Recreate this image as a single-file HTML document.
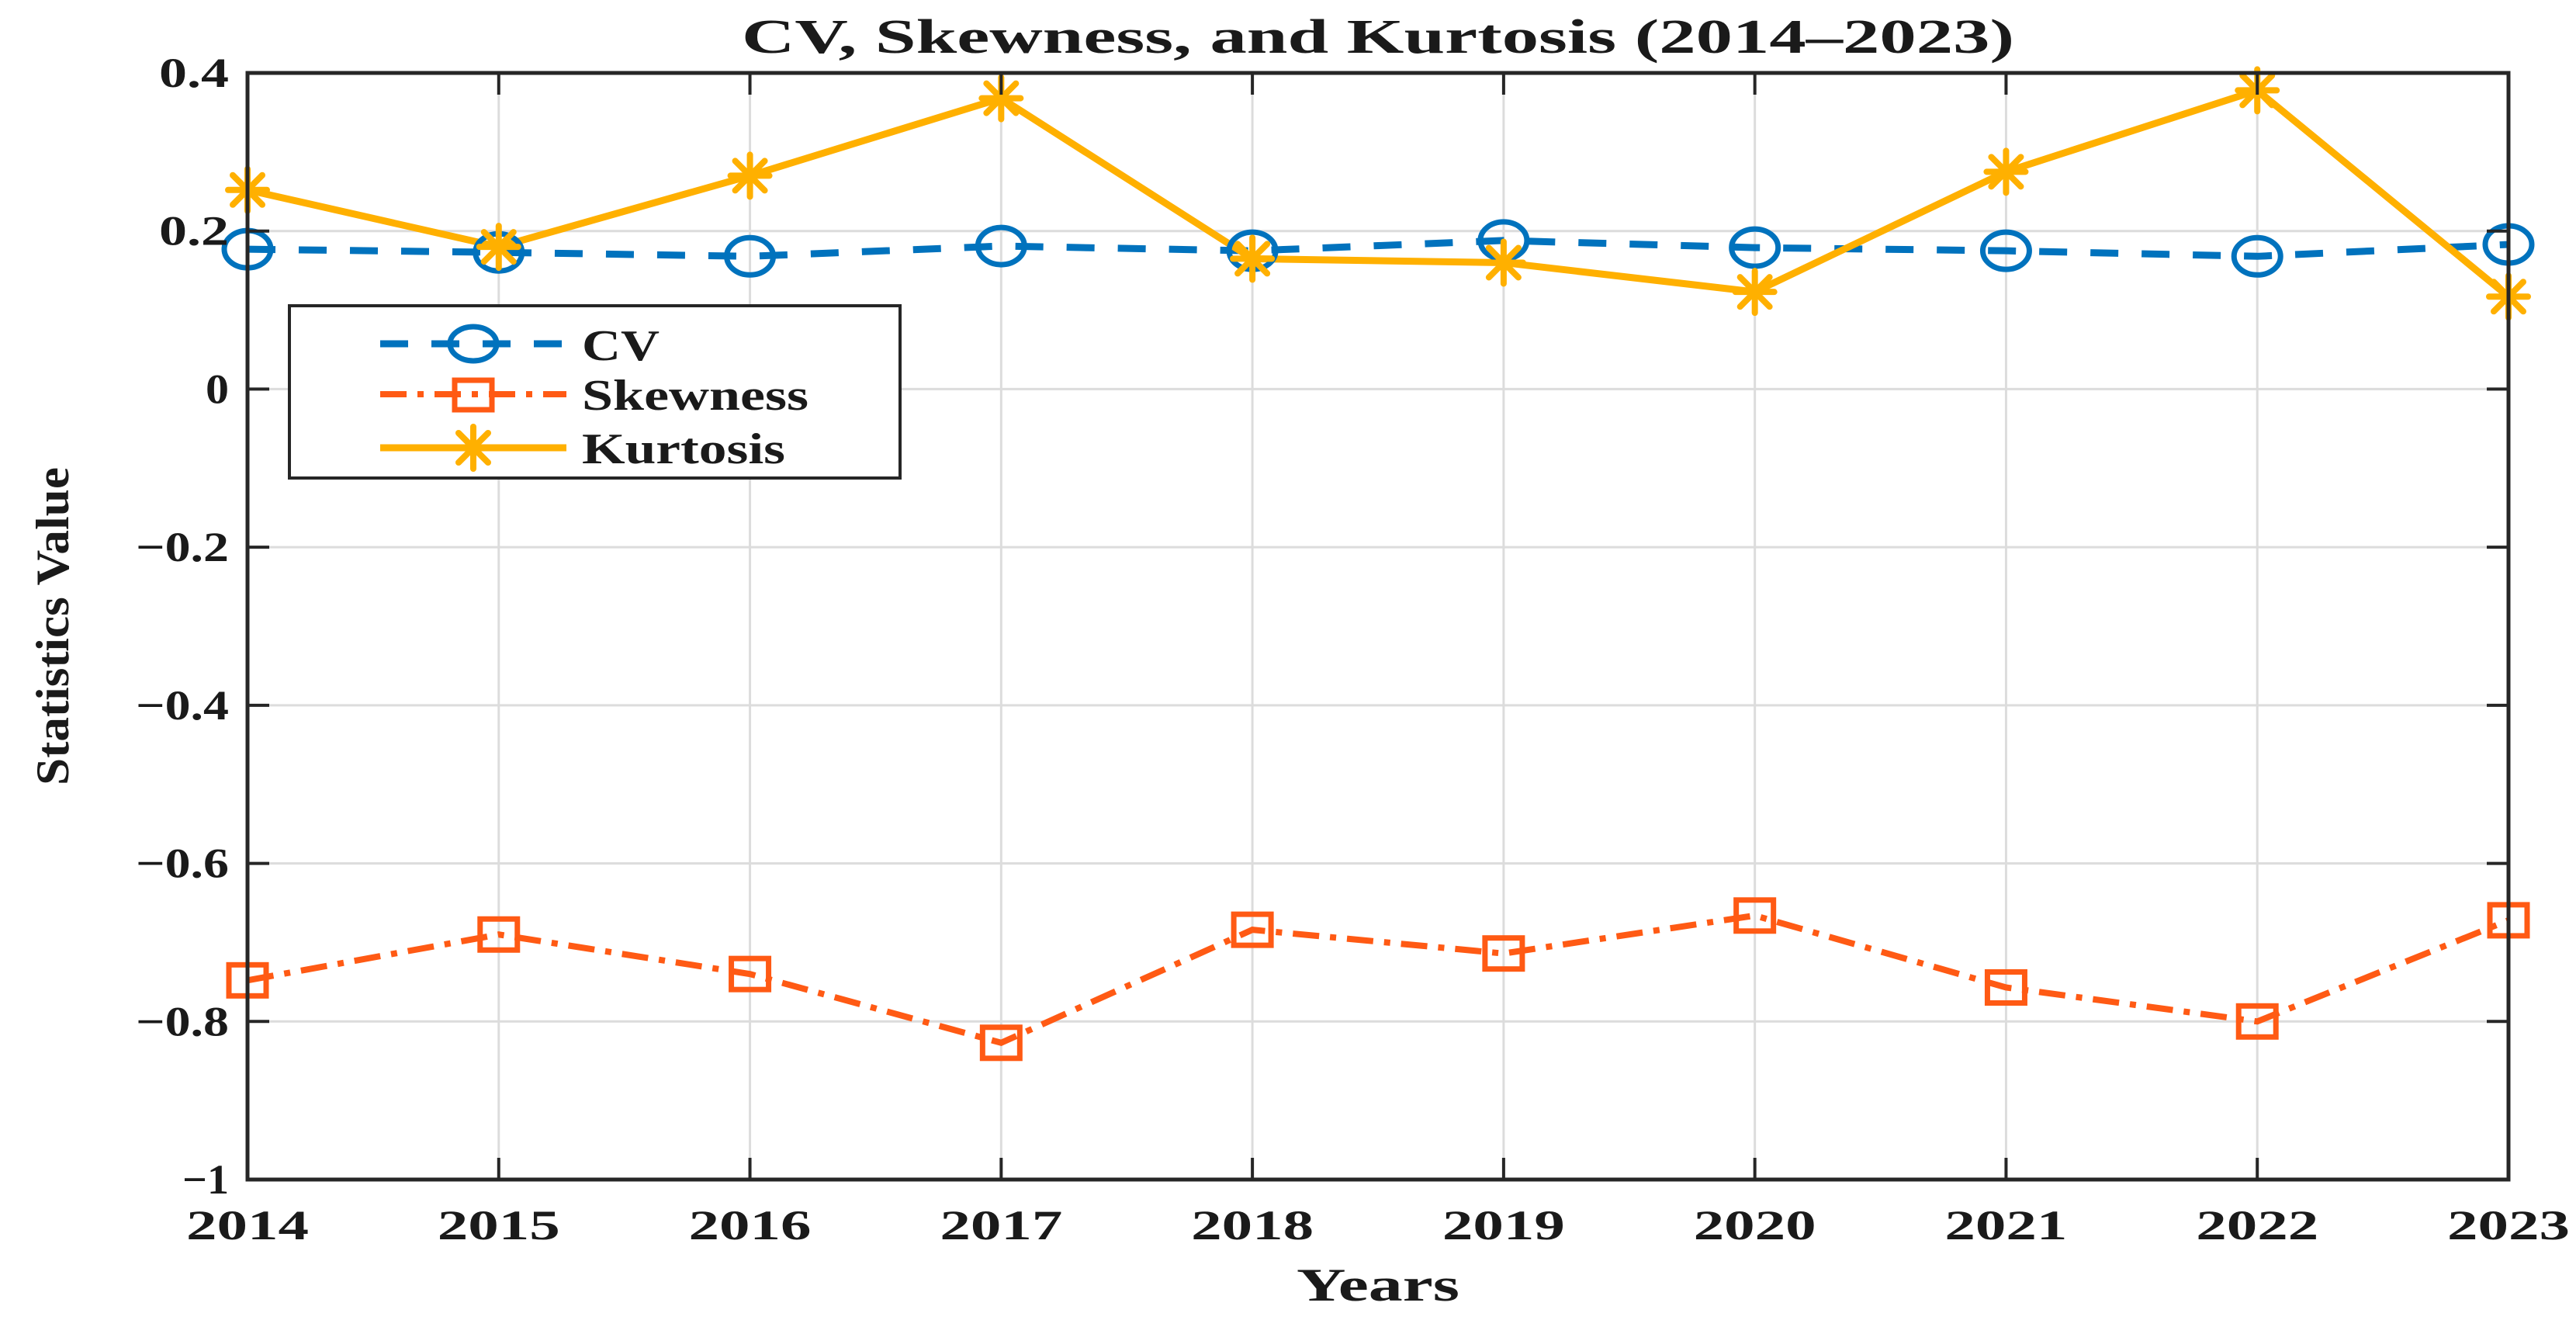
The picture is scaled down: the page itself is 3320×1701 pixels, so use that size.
<!DOCTYPE html>
<html><head><meta charset="utf-8"><style>html,body{margin:0;padding:0;background:#fff}svg{display:block}text{font-family:"Liberation Serif",serif;font-weight:bold;fill:#1a1a1a}</style></head>
<body>
<svg id="chart" width="3320" height="1701" viewBox="0 0 3320 1701" xmlns="http://www.w3.org/2000/svg">
<g id="grid"></g>
<g id="series"></g>
<rect x="319" y="94" width="2914" height="1426" fill="none" stroke="#262626" stroke-width="5"/>
<g id="ticks"></g>
<text x="1776" y="68" font-size="62" text-anchor="middle" textLength="1640" lengthAdjust="spacingAndGlyphs">CV, Skewness, and Kurtosis (2014–2023)</text>
<text x="1776" y="1676" font-size="60" text-anchor="middle" textLength="210" lengthAdjust="spacingAndGlyphs">Years</text>
<text transform="translate(88,807) rotate(-90)" font-size="60" text-anchor="middle" textLength="410" lengthAdjust="spacingAndGlyphs">Statistics Value</text>
<g>
<rect x="373" y="394" width="787" height="222" fill="#fff" stroke="#262626" stroke-width="4"/>
<g>
<line x1="490" y1="443" x2="730" y2="443" stroke="#0072bd" stroke-width="9" stroke-dasharray="36,30"/>
<ellipse cx="610" cy="443" rx="30" ry="22" fill="none" stroke="#0072bd" stroke-width="7"/>
<text x="750" y="464" font-size="56" textLength="100" lengthAdjust="spacingAndGlyphs">CV</text></g>
<g>
<line x1="490" y1="508" x2="730" y2="508" stroke="#ff5a14" stroke-width="8" stroke-dasharray="34,14,8,14"/>
<rect x="586" y="490" width="48" height="38" fill="none" stroke="#ff5a14" stroke-width="7"/>
<text x="750" y="528" font-size="56" textLength="292" lengthAdjust="spacingAndGlyphs">Skewness</text></g>
<g>
<line x1="490" y1="577" x2="730" y2="577" stroke="#ffb000" stroke-width="9"/>
<g id="legstar"></g>
<text x="750" y="597" font-size="56" textLength="262" lengthAdjust="spacingAndGlyphs">Kurtosis</text></g>
</g>
</svg>
<script>
const years = [2014,2015,2016,2017,2018,2019,2020,2021,2022,2023];
const cvValues = [0.177,0.173,0.168,0.181,0.175,0.188,0.179,0.175,0.168,0.183];
const skewValues = [-0.748,-0.690,-0.740,-0.827,-0.684,-0.714,-0.666,-0.757,-0.800,-0.672];
const kurtValues = [0.252,0.180,0.270,0.368,0.165,0.160,0.123,0.275,0.378,0.117];
const yTicks = [0.4,0.2,0,-0.2,-0.4,-0.6,-0.8,-1];
const yTickLabels = ["0.4","0.2","0","\u22120.2","\u22120.4","\u22120.6","\u22120.8","\u22121"];

const NS="http://www.w3.org/2000/svg";
const L=319,R=3233,T=94,B=1520;
const xs=y=>L+(y-years[0])/(years[years.length-1]-years[0])*(R-L);
const ys=v=>T+(0.4-v)/(1.4)*(B-T);
function mk(tag,attrs,parent){const e=document.createElementNS(NS,tag);for(const k in attrs)e.setAttribute(k,attrs[k]);parent.appendChild(e);return e;}
const grid=document.getElementById('grid'),ticks=document.getElementById('ticks'),ser=document.getElementById('series');
years.forEach(y=>{
  const x=xs(y);
  const g=mk('line',{x1:x,y1:T,x2:x,y2:B,stroke:'#dcdcdc','stroke-width':3},grid);
  
  
  mk('line',{x1:x,y1:T,x2:x,y2:T+28,stroke:'#262626','stroke-width':4},ticks);
  mk('line',{x1:x,y1:B,x2:x,y2:B-28,stroke:'#262626','stroke-width':4},ticks);
  const t=mk('text',{x:x,y:1597,'font-size':54,'text-anchor':'middle',textLength:158,lengthAdjust:'spacingAndGlyphs'},ticks);
  t.textContent=y;
  
  
});
yTicks.forEach((v,i)=>{
  const y=ys(v);
  const g=mk('line',{x1:L,y1:y,x2:R,y2:y,stroke:'#dcdcdc','stroke-width':3},grid);
  
  
  mk('line',{x1:L,y1:y,x2:L+28,y2:y,stroke:'#262626','stroke-width':4},ticks);
  mk('line',{x1:R,y1:y,x2:R-28,y2:y,stroke:'#262626','stroke-width':4},ticks);
  const lbl=yTickLabels[i];
  const t=mk('text',{x:L-24,y:y+18,'font-size':54,'text-anchor':'end',textLength:lbl.length*30,lengthAdjust:'spacingAndGlyphs'},ticks);
  t.textContent=lbl;
  
  
});
function pts(vals){return vals.map((v,i)=>xs(years[i])+','+ys(v)).join(' ');}
function star(cx,cy,parent){
  const g=mk('g',{stroke:'#ffb000','stroke-width':8,'stroke-linecap':'round'},parent);
  [[0,-27,0,27],[-25,0,25,0],[-19,-19,19,19],[-19,19,19,-19]].forEach(s=>mk('line',{x1:cx+s[0],y1:cy+s[1],x2:cx+s[2],y2:cy+s[3]},g));
  return g;
}
const cvLine=mk('polyline',{points:pts(cvValues),fill:'none',stroke:'#0072bd','stroke-width':9,'stroke-dasharray':'36,30'},ser);


const skLine=mk('polyline',{points:pts(skewValues),fill:'none',stroke:'#ff5a14','stroke-width':8,'stroke-dasharray':'34,14,8,14'},ser);


const kuLine=mk('polyline',{points:pts(kurtValues),fill:'none',stroke:'#ffb000','stroke-width':9},ser);


cvValues.forEach((v,i)=>{
  const m=mk('ellipse',{cx:xs(years[i]),cy:ys(v),rx:30,ry:24,fill:'none',stroke:'#0072bd','stroke-width':7},ser);
  
  
});
skewValues.forEach((v,i)=>{
  const m=mk('rect',{x:xs(years[i])-24,y:ys(v)-20,width:48,height:40,fill:'none',stroke:'#ff5a14','stroke-width':7},ser);
  
  
});
kurtValues.forEach((v,i)=>{
  const m=star(xs(years[i]),ys(v),ser);
  
  
});
star(610,577,document.getElementById('legstar'));
</script>
</body></html>
